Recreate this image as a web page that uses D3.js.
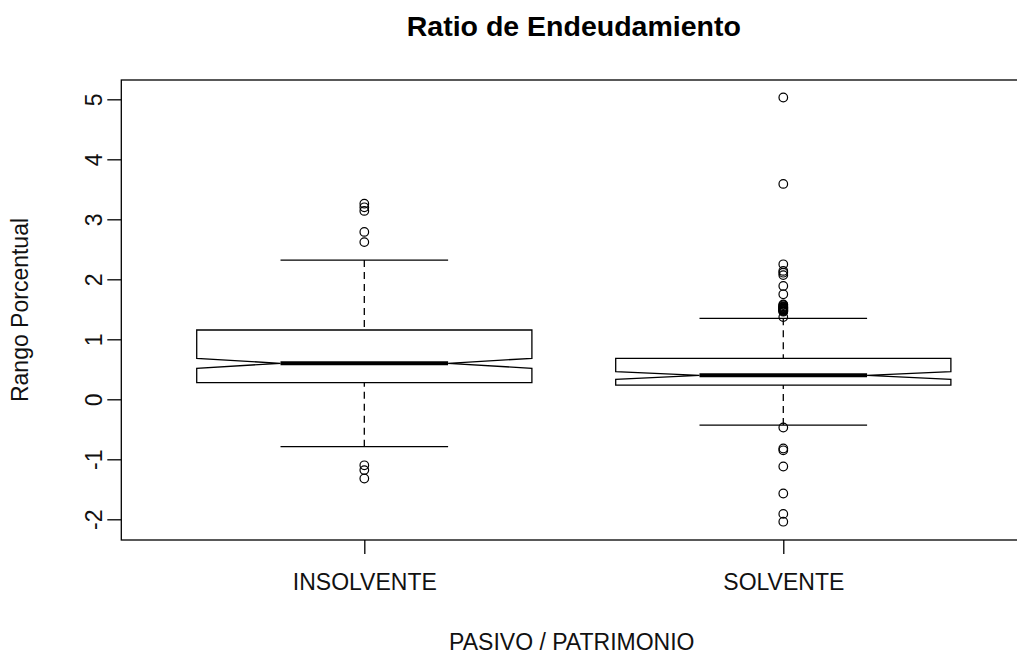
<!DOCTYPE html>
<html>
<head>
<meta charset="utf-8">
<script src="https://cdn.jsdelivr.net/npm/d3@7/dist/d3.min.js"></script>
<style>
  html, body { margin: 0; padding: 0; background: #fff; }
  svg { display: block; font-family: "Liberation Sans", Arial, sans-serif; }
</style>
</head>
<body>
<svg id="chart" width="1017" height="656"></svg>
<script>
// ---- data ----
const categories = ["INSOLVENTE", "SOLVENTE"];
const whiskerLow  = [-0.79, -0.43];
const quart1      = [0.277, 0.238];
const medians     = [0.60, 0.40];
const quart3      = [1.155, 0.683];
const whiskerHigh = [2.32, 1.35];
const notchLow    = [0.517, 0.333];
const notchHigh   = [0.683, 0.46];
const outliersInsolvente = [3.26, 3.20, 3.14, 2.79, 2.62, -1.10, -1.18, -1.32];
const outliersSolvente = [5.03, 3.59, 2.25, 2.14, 2.11, 2.07, 1.89, 1.75,
  1.58, 1.57, 1.55, 1.54, 1.53, 1.52, 1.51, 1.50, 1.49, 1.48, 1.47, 1.46, 1.37,
  -0.47, -0.82, -0.85, -1.12, -1.57, -1.91, -2.04];
const outliers = [outliersInsolvente, outliersSolvente];
const yTicks = [-2, -1, 0, 1, 2, 3, 4, 5];
const yDomain = [-2.345, 5.322];
const titleText = "Ratio de Endeudamiento";
const xLabel = "PASIVO / PATRIMONIO";
const yLabel = "Rango Porcentual";

// ---- layout ----
const plot = { left: 121.3, right: 1026.3, top: 80, bottom: 540 };
const svg = d3.select("#chart");
svg.append("rect").attr("width", 1017).attr("height", 656).attr("fill", "#fff");

const x = d3.scalePoint().domain(categories).range([plot.left, plot.right]).padding(0.58);
const y = d3.scaleLinear().domain(yDomain).range([plot.bottom, plot.top]);
const halfW = x.step() * 0.4;
const notchFrac = 0.5;

const g = svg.append("g");

categories.forEach((c, i) => {
  const cx = x(c);
  // notched box polygon (R bxp style)
  const pts = [
    [cx - halfW, y(quart1[i])],
    [cx + halfW, y(quart1[i])],
    [cx + halfW, y(notchLow[i])],
    [cx + halfW * notchFrac, y(medians[i])],
    [cx + halfW, y(notchHigh[i])],
    [cx + halfW, y(quart3[i])],
    [cx - halfW, y(quart3[i])],
    [cx - halfW, y(notchHigh[i])],
    [cx - halfW * notchFrac, y(medians[i])],
    [cx - halfW, y(notchLow[i])]
  ];
  g.append("polygon")
    .attr("points", pts.map(p => p.join(",")).join(" "))
    .attr("fill", "none").attr("stroke", "#000").attr("stroke-width", 1.3);

  // median
  g.append("line")
    .attr("x1", cx - halfW * notchFrac).attr("x2", cx + halfW * notchFrac)
    .attr("y1", y(medians[i])).attr("y2", y(medians[i]))
    .attr("stroke", "#000").attr("stroke-width", 4);

  // whiskers (dashed) and staples
  [[quart1[i], whiskerLow[i]], [quart3[i], whiskerHigh[i]]].forEach(([a, b]) => {
    g.append("line")
      .attr("x1", cx).attr("x2", cx)
      .attr("y1", y(b)).attr("y2", y(a))
      .attr("stroke", "#000").attr("stroke-width", 1.3)
      .attr("stroke-dasharray", "7,5");
    g.append("line")
      .attr("x1", cx - halfW / 2).attr("x2", cx + halfW / 2)
      .attr("y1", y(b)).attr("y2", y(b))
      .attr("stroke", "#000").attr("stroke-width", 1.3);
  });

  // outliers
  g.selectAll(null).data(outliers[i]).enter().append("circle")
    .attr("cx", cx).attr("cy", d => y(d)).attr("r", 4.3)
    .attr("fill", "none").attr("stroke", "#000").attr("stroke-width", 1.2);
});

// frame
svg.append("rect")
  .attr("x", plot.left).attr("y", plot.top)
  .attr("width", plot.right - plot.left).attr("height", plot.bottom - plot.top)
  .attr("fill", "none").attr("stroke", "#000").attr("stroke-width", 1.3);

// y axis
const yAxis = svg.append("g").attr("transform", `translate(${plot.left},0)`)
  .call(d3.axisLeft(y).tickValues(yTicks).tickSize(14).tickSizeOuter(0).tickFormat(d => String(d)));
yAxis.select(".domain").remove();
yAxis.selectAll(".tick line").attr("stroke", "#000").attr("stroke-width", 1.3);
yAxis.selectAll(".tick text")
  .attr("transform", "rotate(-90)")
  .attr("x", 0).attr("y", -19.5).attr("dy", 0)
  .attr("text-anchor", "middle")
  .attr("font-size", 23).attr("font-family", "Liberation Sans, Arial, sans-serif")
  .attr("fill", "#111");

// x axis
const xAxis = svg.append("g").attr("transform", `translate(0,${plot.bottom})`)
  .call(d3.axisBottom(x).tickSize(14).tickSizeOuter(0));
xAxis.select(".domain").remove();
xAxis.selectAll(".tick line").attr("stroke", "#000").attr("stroke-width", 1.3);
xAxis.selectAll(".tick text")
  .attr("y", 50).attr("dy", 0)
  .attr("font-size", 23).attr("font-family", "Liberation Sans, Arial, sans-serif")
  .attr("fill", "#111");

// title & labels
const midX = (plot.left + plot.right) / 2;
svg.append("text").attr("x", midX).attr("y", 36)
  .attr("text-anchor", "middle").attr("font-weight", "bold").attr("font-size", 28.5)
  .attr("fill", "#000").text(titleText);
svg.append("text").attr("x", midX - 2).attr("y", 650)
  .attr("text-anchor", "middle").attr("font-size", 23).attr("fill", "#111").text(xLabel);
svg.append("text")
  .attr("transform", `translate(28,${(plot.top + plot.bottom) / 2}) rotate(-90)`)
  .attr("text-anchor", "middle").attr("font-size", 23).attr("fill", "#111").text(yLabel);
</script>
</body>
</html>
